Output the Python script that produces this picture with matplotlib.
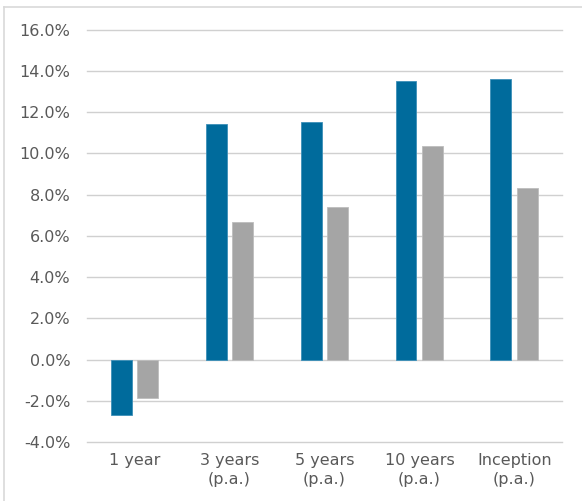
import matplotlib
matplotlib.use('Agg')
import matplotlib.pyplot as plt
from matplotlib.lines import Line2D
from matplotlib.ticker import FuncFormatter
import numpy as np

categorias = ['1 year', '3 years\n(p.a.)', '5 years\n(p.a.)', '10 years\n(p.a.)', 'Inception\n(p.a.)']
fundo = [-2.66, 11.43, 11.52, 13.49, 13.59]
indice = [-1.86, 6.65, 7.38, 10.36, 8.33]

azul = '#006b9c'
cinza = '#a5a5a5'
texto = '#595959'

plt.rcParams['font.family'] = ['DejaVu Sans']

fig = plt.figure(figsize=(5.82, 5.01), dpi=100)
ax = fig.add_axes([0.1495, 0.1172, 0.8161, 0.8239])

x = np.arange(len(categorias))
largura = 0.221
desloc = 0.142
ax.bar(x - desloc, fundo, largura, color=azul, edgecolor='#3d8fb8', linewidth=0.6, zorder=3)
ax.bar(x + desloc, indice, largura, color=cinza, edgecolor='#bdbdbd', linewidth=0.6, zorder=3)

ax.set_xlim(-0.5, len(categorias) - 0.5)
ax.set_ylim(-4, 16)
ax.set_yticks(np.arange(-4, 17, 2))
ax.yaxis.set_major_formatter(FuncFormatter(lambda v, p: '%.1f%%' % v))
ax.set_xticks(x)
ax.set_xticklabels(categorias)

ax.grid(axis='y', color='#d0d0d0', linewidth=1, zorder=0)
for g in ax.get_ygridlines():
    g.set_clip_on(False)
for lado in ax.spines.values():
    lado.set_visible(False)
ax.tick_params(length=0, labelsize=11.5, colors=texto, pad=12)
ax.tick_params(axis='x', pad=8)
for t in ax.get_xticklabels():
    t.set_linespacing(1.3)

# moldura: linha superior e esquerda
fig.add_artist(Line2D([0.0077, 1.0], [0.986, 0.986], color='#d9d9d9', linewidth=1.2))
fig.add_artist(Line2D([0.0077, 0.0077], [0.0, 0.986], color='#d9d9d9', linewidth=1.2))

plt.savefig('out.png', dpi=100)
